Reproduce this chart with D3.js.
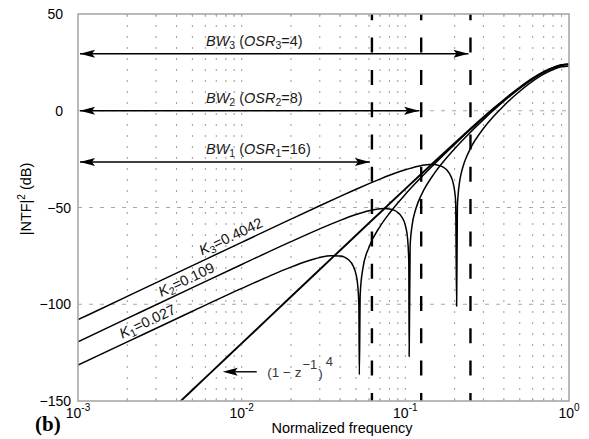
<!DOCTYPE html>
<html>
<head>
<meta charset="utf-8">
<script src="https://cdn.jsdelivr.net/npm/d3@7"></script>
<style>
  body { margin: 0; background: #fff; }
  svg { display: block; font-family: Arial, "Liberation Sans", sans-serif; }
</style>
</head>
<body>
<svg id="chart" width="589" height="439"></svg>
<script>
// |NTF|^2 in dB against normalized frequency, pairs of [f, dB]
const ntf4 = [
  [0.004, -152.06], [0.005, -144.31], [0.007, -132.62], [0.01, -120.23], [0.015, -106.14],
  [0.02, -96.15], [0.03, -82.07], [0.04, -72.09], [0.05, -64.35], [0.06, -58.03],
  [0.07, -52.69], [0.08, -48.07], [0.1, -40.37], [0.12, -34.10], [0.15, -26.46],
  [0.2, -16.72], [0.25, -9.29], [0.3, -3.35], [0.35, 1.53], [0.4, 5.62],
  [0.5, 12.04], [0.6, 16.72], [0.7, 20.07], [0.8, 22.34], [0.9, 23.65], [1, 24.08]
];
const ntfK1 = [
  [0.001, -131.49], [0.002, -119.46], [0.005, -103.61], [0.01, -91.81], [0.015, -85.19],
  [0.02, -80.82], [0.025, -77.82], [0.03, -75.87], [0.035, -74.88], [0.04, -75.04],
  [0.045, -77.04], [0.048, -80.20], [0.05, -84.65], [0.051, -89.01], [0.052, -100.08],
  [0.05236, -136.4], [0.053, -94.77], [0.055, -81.63], [0.06, -70.50], [0.07, -59.83],
  [0.08, -52.95], [0.1, -43.17], [0.12, -35.95], [0.15, -27.61], [0.2, -17.36],
  [0.25, -9.70], [0.3, -3.64], [0.35, 1.31], [0.4, 5.45], [0.5, 11.92],
  [0.6, 16.63], [0.7, 20.00], [0.8, 22.27], [0.9, 23.60], [1, 24.02]
];
const ntfK2 = [
  [0.001, -119.37], [0.002, -107.33], [0.005, -91.43], [0.01, -79.44], [0.02, -67.65],
  [0.03, -61.03], [0.04, -56.65], [0.05, -53.65], [0.06, -51.68], [0.07, -50.67],
  [0.075, -50.54], [0.08, -50.75], [0.085, -51.37], [0.09, -52.58], [0.095, -54.80],
  [0.1, -59.27], [0.103, -65.35], [0.105, -77.98], [0.10554, -127.0], [0.107, -69.66],
  [0.11, -59.23], [0.115, -51.71], [0.12, -47.10], [0.13, -40.80], [0.15, -32.48],
  [0.2, -19.64], [0.25, -11.08], [0.3, -4.59], [0.35, 0.62], [0.4, 4.91],
  [0.5, 11.55], [0.6, 16.35], [0.7, 19.77], [0.8, 22.07], [0.9, 23.41], [1, 23.84]
];
const ntfK3 = [
  [0.001, -107.98], [0.002, -95.94], [0.005, -80.03], [0.01, -68.00], [0.02, -56.03],
  [0.03, -49.10], [0.04, -44.26], [0.05, -40.59], [0.06, -37.68], [0.07, -35.32],
  [0.08, -33.37], [0.1, -30.46], [0.12, -28.63], [0.13, -28.09], [0.14, -27.81],
  [0.15, -27.83], [0.16, -28.22], [0.17, -29.12], [0.18, -30.78], [0.19, -33.90],
  [0.195, -36.64], [0.2, -41.42], [0.203, -47.21], [0.20581, -101.0], [0.208, -49.84],
  [0.21, -43.74], [0.215, -36.28], [0.22, -31.99], [0.23, -26.42], [0.25, -19.46],
  [0.3, -9.21], [0.35, -2.49], [0.4, 2.61], [0.5, 10.08], [0.6, 15.26],
  [0.7, 18.89], [0.8, 21.31], [0.9, 22.71], [1, 23.16]
];

// K values of the notched curves
const kSubs = ["1", "2", "3"];
const kValues = ["0.027", "0.109", "0.4042"];

// signal bandwidths and oversampling ratios
const osrSubs = ["1", "2", "3"];
const osrValues = [16, 8, 4];
const bwEdges = [0.0625, 0.125, 0.25];
const bwLevels = [-26.5, 0, 29.5];

// axis ticks
const xTickExps = [-3, -2, -1, 0];
const yTicks = [50, 0, -50, -100, -150];
const yGrid = [0, -50, -100];

const svg = d3.select("#chart");
const x = d3.scaleLog().domain([1e-3, 1]).range([78, 569]);
const y = d3.scaleLinear().domain([-150, 50]).range([401, 14]);
const [x0, x1] = x.range();
const [yb, yt] = y.range();

// minor log positions for the dotted grid
const minorX = [];
for (let d = -3; d < 0; d++) {
  for (let k = 1; k <= 9; k++) {
    const v = k * Math.pow(10, d);
    if (v > 1e-3) minorX.push(v);
  }
}

const grid = svg.append("g");
grid.selectAll("line.vx").data(minorX).join("line")
  .attr("x1", d => x(d)).attr("x2", d => x(d))
  .attr("y1", yt).attr("y2", yb)
  .attr("stroke", "#a4a4a4").attr("stroke-width", 1.1)
  .attr("stroke-dasharray", "2,9");
grid.selectAll("line.hy").data(yGrid).join("line")
  .attr("x1", x0).attr("x2", x1)
  .attr("y1", d => y(d)).attr("y2", d => y(d))
  .attr("stroke", "#a8a8a8").attr("stroke-width", 1)
  .attr("stroke-dasharray", "4,7");

// inward tick marks along the bottom and top edges
const tk = svg.append("g").attr("stroke", "#a8a8a8").attr("stroke-width", 1);
tk.selectAll("line.b").data(minorX).join("line")
  .attr("x1", d => x(d)).attr("x2", d => x(d))
  .attr("y1", yb).attr("y2", yb - 3);
tk.selectAll("line.t").data(minorX).join("line")
  .attr("x1", d => x(d)).attr("x2", d => x(d))
  .attr("y1", yt).attr("y2", yt + 3);

// bandwidth edges
svg.append("g").selectAll("line").data(bwEdges).join("line")
  .attr("x1", d => x(d)).attr("x2", d => x(d))
  .attr("y1", yt).attr("y2", yb)
  .attr("stroke", "#000").attr("stroke-width", 2.4)
  .attr("stroke-dasharray", "15,17.3").attr("stroke-dashoffset", 8.7);

// curves
svg.append("defs").append("clipPath").attr("id", "plotArea")
  .append("rect").attr("x", x0).attr("y", yt).attr("width", x1 - x0).attr("height", yb - yt);

const line = d3.line().x(d => x(d[0])).y(d => y(d[1])).curve(d3.curveMonotoneX);
const curves = svg.append("g").attr("clip-path", "url(#plotArea)");
curves.selectAll("path").data([ntfK1, ntfK2, ntfK3, ntf4]).join("path")
  .attr("d", line)
  .attr("fill", "none").attr("stroke", "#000")
  .attr("stroke-width", (d, i) => i === 3 ? 1.9 : 1.5)
  .attr("stroke-linejoin", "round");

// frame
svg.append("rect").attr("x", x0).attr("y", yt).attr("width", x1 - x0).attr("height", yb - yt)
  .attr("fill", "none").attr("stroke", "#a8a8a8").attr("stroke-width", 1.6);

// double-headed bandwidth arrows with their labels
function arrowHead(g, tipX, tipY, dir) {
  const L = 15, H = 4;
  g.append("path")
    .attr("d", `M${tipX},${tipY} L${tipX + dir * L},${tipY - H} L${tipX + dir * (L - 3)},${tipY} L${tipX + dir * L},${tipY + H} Z`)
    .attr("fill", "#000");
}
const arrows = svg.append("g");
bwEdges.forEach((bw, i) => {
  const yy = y(bwLevels[i]);
  const a = x0 + 2, b = x(bw) - 2;
  arrows.append("line").attr("x1", a).attr("x2", b).attr("y1", yy).attr("y2", yy)
    .attr("stroke", "#000").attr("stroke-width", 1.5);
  arrowHead(arrows, a, yy, 1);
  arrowHead(arrows, b, yy, -1);
  const t = arrows.append("text").attr("x", 206).attr("y", yy - 8)
    .attr("font-size", 14.5).attr("fill", "#1a1a1a");
  t.append("tspan").attr("font-style", "italic").text("BW");
  t.append("tspan").attr("font-size", 10.5).attr("dy", 3).text(osrSubs[i]);
  t.append("tspan").attr("dy", -3).text(" (");
  t.append("tspan").attr("font-style", "italic").text("OSR");
  t.append("tspan").attr("font-size", 10.5).attr("dy", 3).text(osrSubs[i]);
  t.append("tspan").attr("dy", -3).text("=" + osrValues[i] + ")");
});

// K labels laid along the low-frequency asymptotes
function dbAt(series, f) {
  for (let i = 0; i < series.length - 1; i++) {
    const [fa, da] = series[i], [fb, db] = series[i + 1];
    if (f >= fa && f <= fb) {
      const t = (Math.log(f) - Math.log(fa)) / (Math.log(fb) - Math.log(fa));
      return da + t * (db - da);
    }
  }
  return series[0][1];
}
const slopeAngle = -Math.atan2(y(0) - y(40), x(10e-3) - x(1e-3)) * 180 / Math.PI;
const kSeries = [ntfK1, ntfK2, ntfK3];
const kAnchorF = [0.00192, 0.00332, 0.0059];
const kl = svg.append("g");
kSeries.forEach((s, i) => {
  const px = x(kAnchorF[i]), py = y(dbAt(s, kAnchorF[i]));
  const t = kl.append("text")
    .attr("transform", `translate(${px},${py}) rotate(${slopeAngle})`)
    .attr("x", 0).attr("y", -5)
    .attr("font-size", 14.5).attr("fill", "#111");
  t.append("tspan").attr("font-style", "italic").text("K");
  t.append("tspan").attr("font-size", 10.5).attr("dy", 3).text(kSubs[i]);
  t.append("tspan").attr("dy", -3).text("=" + kValues[i]);
});

// pointer to the fourth-order curve
const pLevel = -134.9;
const pTip = x(0.00766), pTail = x(0.01236), pY = y(pLevel);
const pg = svg.append("g");
pg.append("line").attr("x1", pTip + 4).attr("x2", pTail).attr("y1", pY).attr("y2", pY)
  .attr("stroke", "#000").attr("stroke-width", 1.4);
pg.append("path")
  .attr("d", `M${pTip},${pY} L${pTip + 15},${pY - 4} L${pTip + 12},${pY} L${pTip + 15},${pY + 4} Z`)
  .attr("fill", "#000");
const pt = pg.append("text").attr("x", x(0.01434)).attr("y", pY + 5)
  .attr("font-size", 13.5).attr("fill", "#3a3a3a");
pt.append("tspan").text("(1 \u2212 z");
pt.append("tspan").attr("font-size", 13).attr("dx", 1).attr("dy", -8).text("\u22121");
pt.append("tspan").attr("dx", 1).attr("dy", 9).text(")");
pt.append("tspan").attr("font-size", 13).attr("dx", 3).attr("dy", -12).text("4");

// y tick labels
svg.append("g").selectAll("text").data(yTicks).join("text")
  .attr("x", d => d < 0 ? 71 : 63)
  .attr("y", d => y(d))
  .attr("dy", "0.36em")
  .attr("text-anchor", "end")
  .attr("font-size", 14).attr("fill", "#000")
  .text(d => d < 0 ? "\u2212" + Math.abs(d) : String(d));

// x tick labels as powers of ten
const xl = svg.append("g");
xTickExps.forEach(e => {
  const t = xl.append("text").attr("x", x(Math.pow(10, e))).attr("y", 418)
    .attr("text-anchor", "middle").attr("font-size", 14).attr("fill", "#000");
  t.append("tspan").text("10");
  t.append("tspan").attr("font-size", 10).attr("dy", -7).text(e === 0 ? "0" : "-" + Math.abs(e));
});

// axis titles
svg.append("text").attr("x", 342).attr("y", 433)
  .attr("text-anchor", "middle").attr("font-size", 14.5).attr("fill", "#000")
  .text("Normalized frequency");

const yl = svg.append("text")
  .attr("transform", `translate(31,199) rotate(-90)`)
  .attr("text-anchor", "middle").attr("font-size", 14.5).attr("fill", "#000");
yl.append("tspan").text("|NTF|");
yl.append("tspan").attr("font-size", 10).attr("dy", -6).text("2");
yl.append("tspan").attr("dy", 6).text(" (dB)");

// panel tag
svg.append("text").attr("x", 35).attr("y", 431)
  .attr("font-family", "'Liberation Serif', 'Times New Roman', serif")
  .attr("font-weight", "bold").attr("font-size", 21).attr("fill", "#000")
  .text("(b)");
</script>
</body>
</html>
